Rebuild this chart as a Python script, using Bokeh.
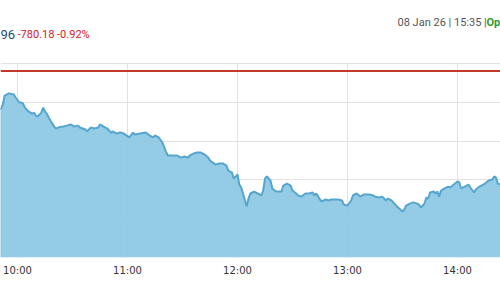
from bokeh.plotting import figure
from bokeh.models import Range1d, FixedTicker, Span, Label
from bokeh.embed import file_html
from bokeh.resources import INLINE

# ---- data ----
times = ["09:50", "09:51", "09:52", "09:53", "09:55", "09:56", "09:58", "09:59", "10:01", "10:02",
         "10:03", "10:04", "10:06", "10:08", "10:09", "10:10", "10:11", "10:13", "10:14", "10:15",
         "10:16", "10:17", "10:18", "10:20", "10:21", "10:22", "10:25", "10:27", "10:29", "10:31",
         "10:33", "10:34", "10:37", "10:38", "10:40", "10:42", "10:44", "10:45", "10:47", "10:49",
         "10:51", "10:52", "10:54", "10:56", "10:58", "11:01", "11:03", "11:04", "11:07", "11:10",
         "11:12", "11:14", "11:15", "11:17", "11:19", "11:21", "11:22", "11:25", "11:27", "11:29",
         "11:31", "11:33", "11:34", "11:36", "11:38", "11:40", "11:42", "11:44", "11:45", "11:48",
         "11:50", "11:52", "11:54", "11:55", "11:57", "11:58", "12:00", "12:01", "12:02", "12:03",
         "12:05", "12:06", "12:07", "12:09", "12:11", "12:13", "12:14", "12:15", "12:16", "12:18",
         "12:19", "12:21", "12:24", "12:25", "12:26", "12:27", "12:29", "12:30", "12:32", "12:33",
         "12:35", "12:37", "12:39", "12:41", "12:42", "12:43", "12:44", "12:45", "12:46", "12:48",
         "12:50", "12:51", "12:53", "12:55", "12:57", "12:58", "13:00", "13:02", "13:03", "13:05",
         "13:07", "13:09", "13:12", "13:14", "13:15", "13:17", "13:19", "13:21", "13:22", "13:24",
         "13:26", "13:27", "13:30", "13:31", "13:32", "13:34", "13:36", "13:38", "13:39", "13:40",
         "13:42", "13:43", "13:44", "13:45", "13:47", "13:48", "13:49", "13:50", "13:51", "13:53",
         "13:55", "13:56", "13:58", "14:00", "14:01", "14:02", "14:04", "14:06", "14:07", "14:09",
         "14:10", "14:12", "14:14", "14:15", "14:17", "14:19", "14:20", "14:21", "14:22", "14:24"]
values = [84765, 84768, 84789, 84835, 84845, 84845, 84840, 84825, 84799, 84799,
          84794, 84773, 84753, 84742, 84747, 84732, 84727, 84747, 84773, 84753,
          84742, 84722, 84706, 84675, 84665, 84670, 84675, 84680, 84686, 84675,
          84680, 84670, 84660, 84650, 84670, 84665, 84670, 84686, 84675, 84665,
          84644, 84650, 84639, 84644, 84639, 84619, 84644, 84634, 84639, 84644,
          84629, 84619, 84629, 84619, 84593, 84546, 84526, 84526, 84526, 84515,
          84521, 84515, 84526, 84536, 84541, 84541, 84531, 84515, 84500, 84479,
          84485, 84485, 84474, 84448, 84438, 84407, 84428, 84376, 84361, 84330,
          84263, 84304, 84330, 84340, 84330, 84320, 84345, 84407, 84418, 84397,
          84356, 84340, 84340, 84371, 84376, 84381, 84371, 84345, 84330, 84320,
          84314, 84330, 84330, 84335, 84320, 84330, 84314, 84299, 84289, 84299,
          84294, 84299, 84299, 84299, 84294, 84273, 84268, 84294, 84320, 84330,
          84314, 84325, 84325, 84320, 84314, 84309, 84314, 84294, 84304, 84294,
          84273, 84263, 84237, 84247, 84268, 84278, 84284, 84278, 84273, 84258,
          84278, 84309, 84304, 84335, 84340, 84330, 84340, 84314, 84345, 84356,
          84366, 84361, 84376, 84392, 84387, 84356, 84366, 84376, 84361, 84335,
          84351, 84366, 84376, 84381, 84397, 84402, 84418, 84412, 84381, 84376]
prev_close = 84961.14
last_value = "96"
change_text = "-780.18 -0.92%"
stamp_text = "08 Jan 26 | 15:35 |"
status_text = "Op"
tick_times = ["10:00", "11:00", "12:00", "13:00", "14:00"]
y_ticks = [84000, 84200, 84400, 84600, 84800, 85000]


def to_min(s):
    h, m = s.split(":")
    return int(h) * 60 + int(m)


t = [to_min(s) for s in times]
tick_min = [to_min(s) for s in tick_times]

X0, X1 = 590.73, 863.45
Y0, Y1 = 84000, 85325

p = figure(width=500, height=299, output_backend="svg", toolbar_location=None,
           x_range=Range1d(X0, X1), y_range=Range1d(Y0, Y1),
           y_axis_location=None, min_border_left=0, min_border_right=0,
           min_border_top=0, min_border_bottom=42)
p.outline_line_color = None
p.background_fill_color = "white"
p.border_fill_color = "white"

p.xgrid.ticker = FixedTicker(ticks=tick_min)
p.ygrid.ticker = FixedTicker(ticks=y_ticks)
p.grid.grid_line_color = "#e2e2e2"
p.grid.grid_line_width = 1
# vertical grid lines only span the chart body (up to the top grid line)
p.xgrid.cross_bounds = (Y0, 85000)

ax = p.xaxis[0]
ax.ticker = FixedTicker(ticks=tick_min)
ax.major_label_overrides = {m: s for m, s in zip(tick_min, tick_times)}
ax.axis_line_color = None
ax.major_tick_line_color = None
ax.minor_tick_line_color = None
ax.major_tick_out = 0
ax.major_label_standoff = 7
ax.major_label_text_font = "DejaVu Sans"
ax.major_label_text_font_size = "10px"
ax.major_label_text_color = "#333333"

p.varea(x=t, y1=[Y0] * len(t), y2=values, fill_color="#8cc7e3", fill_alpha=0.93)
p.line(x=t, y=values, line_color="#55a5cf", line_width=2)

p.add_layout(Span(location=prev_close, dimension="width", line_color="#c0392b", line_width=2))

# header texts, placed in screen pixels of the frame (origin bottom-left)
p.add_layout(Label(x=0, y=257 - 34, x_units="screen", y_units="screen", text=last_value,
                   text_baseline="alphabetic", text_font="Roboto",
                   text_font_size="13px", text_color="#1f4b6e"))
p.add_layout(Label(x=17, y=257 - 34, x_units="screen", y_units="screen", text=change_text,
                   text_baseline="alphabetic", text_font="Roboto", text_font_size="11px",
                   text_color="#d0202e"))
p.add_layout(Label(x=397, y=257 - 22, x_units="screen", y_units="screen", text=stamp_text,
                   text_baseline="alphabetic", text_font="Roboto", text_font_size="11px",
                   text_color="#555555"))
p.add_layout(Label(x=486, y=257 - 22, x_units="screen", y_units="screen", text=status_text,
                   text_baseline="alphabetic", text_font="Roboto", text_font_size="11px",
                   text_font_style="bold", text_color="#2e9a2e"))

open("out.html", "w").write(file_html(p, INLINE))
